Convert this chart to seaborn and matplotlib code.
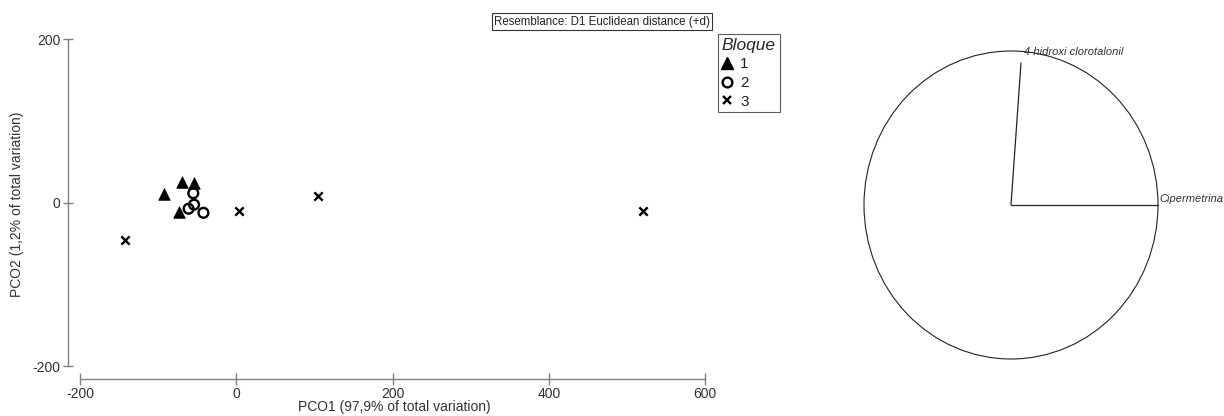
import matplotlib
matplotlib.use("Agg")
import matplotlib.pyplot as plt
import seaborn as sns
import numpy as np
import pandas as pd
from matplotlib.lines import Line2D
from matplotlib.patches import Ellipse

# ---- data ----
bloque1_x = [-92, -69, -54, -73]
bloque1_y = [11, 26, 24, -11]
bloque2_x = [-55, -61, -54, -42]
bloque2_y = [12, -7, -2, -12]
bloque3_x = [-142, 3, 104, 521]
bloque3_y = [-45, -10, 9, -10]
bloque_labels = ["1", "2", "3"]

x_ticks = [-200, 0, 200, 400, 600]
y_ticks = [-200, 0, 200]
x_label = "PCO1 (97,9% of total variation)"
y_label = "PCO2 (1,2% of total variation)"
resemblance = "Resemblance: D1 Euclidean distance (+d)"

vector_names = ["Cipermetrina", "4 hidroxi clorotalonil"]
vector_x = [1.0, 0.068]
vector_y = [0.0, 0.922]

# ---- style ----
sns.set_theme(style="white")
plt.rcParams["font.family"] = ["Liberation Sans", "DejaVu Sans"]
plt.rcParams["axes.unicode_minus"] = False

W, H = 1224, 416
fig = plt.figure(figsize=(W / 100, H / 100), dpi=100)

def px_rect(left, top, right, bottom):
    return [left / W, 1 - bottom / H, (right - left) / W, (bottom - top) / H]

ax = fig.add_axes(px_rect(68, 30, 720, 379))
ax.set_xlim(-215.36, 619.2)
ax.set_ylim(-215.3, 211.6)

df1 = pd.DataFrame({"x": bloque1_x, "y": bloque1_y})
df2 = pd.DataFrame({"x": bloque2_x, "y": bloque2_y})
df3 = pd.DataFrame({"x": bloque3_x, "y": bloque3_y})

sns.scatterplot(data=df1, x="x", y="y", marker="^", color="black", s=70,
                edgecolor="black", linewidth=0.5, ax=ax, legend=False)
sns.scatterplot(data=df2, x="x", y="y", marker="o", facecolor="none", edgecolor="black",
                s=50, linewidth=1.7, ax=ax, legend=False)
sns.scatterplot(data=df3, x="x", y="y", marker="x", color="black", s=36,
                linewidth=1.7, ax=ax, legend=False)

gray = "#808080"
for side in ["top", "right"]:
    ax.spines[side].set_visible(False)
ax.spines["left"].set_bounds(-200, 200)
ax.spines["bottom"].set_bounds(-200, 600)
for side in ["left", "bottom"]:
    ax.spines[side].set_color(gray)
    ax.spines[side].set_linewidth(1.0)
ax.set_xticks(x_ticks)
ax.set_yticks(y_ticks)
ax.tick_params(axis="both", bottom=True, left=True, direction="inout", length=7, width=1.0,
               color=gray, labelsize=10, labelcolor="#333333", pad=2)
ax.tick_params(axis="x", length=9, pad=1)
ax.set_xlabel(x_label, fontsize=10, color="#333333", labelpad=-0.5)
ax.set_ylabel(y_label, fontsize=10, color="#333333", labelpad=6)
ax.grid(False)

# resemblance box
fig.text(494 / W, 1 - 21.5 / H, resemblance, fontsize=8.3, color="#222222",
         ha="left", va="center",
         bbox=dict(boxstyle="square,pad=0.2", facecolor="white", edgecolor="#333333", linewidth=0.8))

# legend
handles = [
    Line2D([], [], linestyle="none", marker="^", color="black", markersize=8.5),
    Line2D([], [], linestyle="none", marker="o", markerfacecolor="none",
           markeredgecolor="black", markeredgewidth=1.7, markersize=7),
    Line2D([], [], linestyle="none", marker="x", color="black", markeredgewidth=1.7, markersize=6),
]
leg = ax.legend(handles, bloque_labels, title="Bloque", loc="upper left",
                bbox_to_anchor=(718 / W, 1 - 34 / H), bbox_transform=fig.transFigure,
                borderaxespad=0, frameon=True, fancybox=False, fontsize=11,
                title_fontproperties={"style": "italic", "size": 12.5},
                handlelength=0.7, handletextpad=0.5, labelspacing=0.3,
                borderpad=0.25, alignment="left")
leg.get_frame().set_edgecolor("#333333")
leg.get_frame().set_linewidth(0.8)
for t in leg.get_texts():
    t.set_color("#222222")

# vector circle panel
cx, cy, rx, ry = 1011, 205, 147, 154
ax2 = fig.add_axes(px_rect(cx - rx, cy - ry, cx + rx, cy + ry))
ax2.set_xlim(-1, 1)
ax2.set_ylim(-1, 1)
ax2.axis("off")
ax2.add_patch(Ellipse((0, 0), 2, 2, facecolor="none", edgecolor="#222222", linewidth=0.8,
                      clip_on=False))
for name, vx, vy in zip(vector_names, vector_x, vector_y):
    ax2.plot([0, vx], [0, vy], color="#222222", linewidth=0.9, clip_on=False)
    if vy > 0.5:
        ax2.text(vx + 0.02, vy + 0.07, name, fontsize=8, style="italic", color="#333333",
                 ha="left", va="center", clip_on=False)
    else:
        ax2.text(vx + 0.01, vy + 0.04, name, fontsize=8, style="italic", color="#333333",
                 ha="left", va="center", clip_on=False)

fig.savefig("out.png", dpi=100, facecolor="white")
